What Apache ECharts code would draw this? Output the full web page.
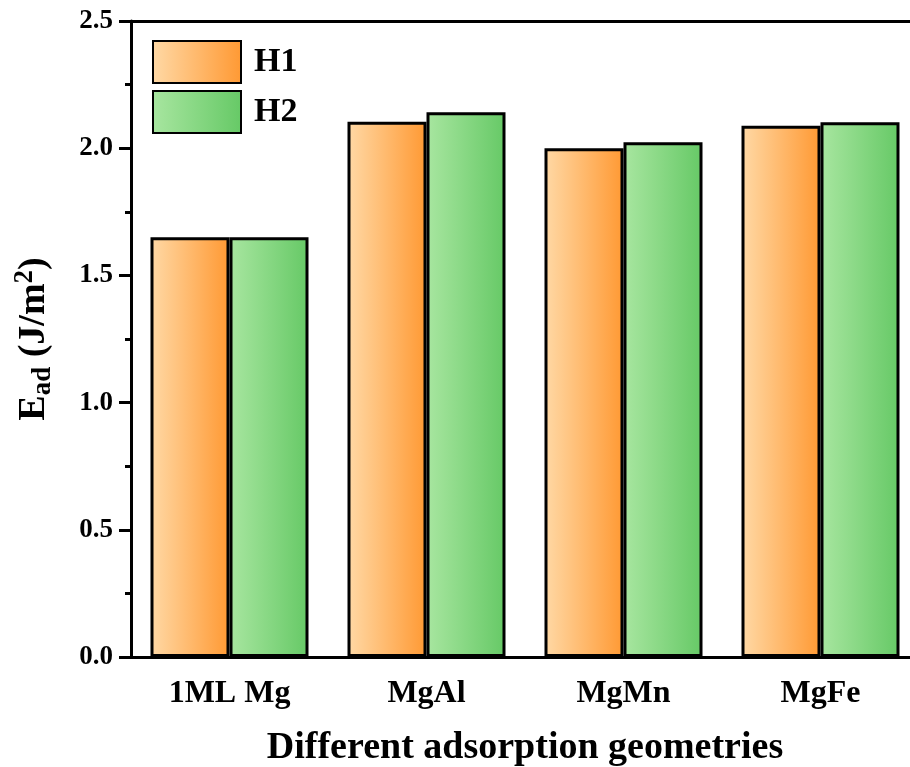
<!DOCTYPE html>
<html><head><meta charset="utf-8">
<script src="https://cdn.jsdelivr.net/npm/echarts@6/dist/echarts.min.js"></script>
<style>html,body{margin:0;padding:0;background:#fff}#c{width:910px;height:767px}</style>
</head><body><div id="c"></div>
<script>
const categories = ['1ML Mg', 'MgAl', 'MgMn', 'MgFe'];
const h1Values = [1.650, 2.104, 2.000, 2.088];
const h2Values = [1.650, 2.141, 2.023, 2.102];
const seriesNames = ['H1', 'H2'];

const FONT = '"Liberation Serif", "Times New Roman", serif';
function grad(a, b) {
  return new echarts.graphic.LinearGradient(0, 0, 1, 0, [{offset: 0, color: a}, {offset: 1, color: b}]);
}
const chart = echarts.init(document.getElementById('c'));
chart.setOption({
  animation: false,
  backgroundColor: '#fff',
  grid: {left: 131, right: -9, top: 21, bottom: 110, containLabel: false, outerBoundsMode: 'none'},
  legend: {
    left: 152, top: 40, padding: 0, orient: 'vertical', itemWidth: 88, itemHeight: 42, itemGap: 6,
    icon: 'rect',
    textStyle: {fontFamily: FONT, fontWeight: 'bold', fontSize: 34, color: '#000', padding: [4, 0, 0, 8]},
    data: seriesNames
  },
  xAxis: [{
    type: 'category', data: categories,
    axisLine: {lineStyle: {color: '#000', width: 3}},
    axisTick: {alignWithLabel: true, length: 10, lineStyle: {width: 3, color: '#000'}},
    axisLabel: {fontFamily: FONT, fontWeight: 'bold', fontSize: 32, color: '#000', margin: 21},
    name: 'Different adsorption geometries', nameLocation: 'middle', nameGap: 72,
    nameTextStyle: {fontFamily: FONT, fontWeight: 'bold', fontSize: 38, color: '#000'}
  }, {
    type: 'category', data: categories, position: 'bottom',
    axisLine: {show: false},
    axisTick: {length: 5, lineStyle: {width: 3, color: '#000'}},
    axisLabel: {show: false}
  }, {
    type: 'category', data: categories, position: 'top',
    axisLine: {lineStyle: {color: '#000', width: 3}},
    axisTick: {show: false}, axisLabel: {show: false}
  }],
  yAxis: {
    type: 'value', min: 0, max: 2.5, interval: 0.5,
    axisLine: {show: true, lineStyle: {color: '#000', width: 3}},
    axisTick: {show: true, length: 12, lineStyle: {width: 3, color: '#000'}},
    minorTick: {show: true, splitNumber: 2, length: 6, lineStyle: {width: 3, color: '#000'}},
    splitLine: {show: false},
    axisLabel: {fontFamily: FONT, fontWeight: 'bold', fontSize: 27, color: '#000', margin: 18,
      formatter: v => v.toFixed(1)},
    name: '{a|E}{b|ad}{a| (J/m}{c|2}{a|)}', nameLocation: 'middle', nameGap: 74,
    nameTextStyle: {
      fontFamily: FONT, fontWeight: 'bold', fontSize: 38, color: '#000',
      rich: {
        a: {fontFamily: FONT, fontWeight: 'bold', fontSize: 38, color: '#000', lineHeight: 46},
        b: {fontFamily: FONT, fontWeight: 'bold', fontSize: 27, color: '#000', lineHeight: 46, padding: [18, 0, 0, 0]},
        c: {fontFamily: FONT, fontWeight: 'bold', fontSize: 27, color: '#000', lineHeight: 46, padding: [0, 0, 18, 0]}
      }
    }
  },
  series: [{
    name: seriesNames[0], type: 'bar', data: h1Values, barWidth: 79, barGap: '0%',
    itemStyle: {color: grad('#FFD9A6', '#FF9933'), borderColor: '#000', borderWidth: 3}
  }, {
    name: seriesNames[1], type: 'bar', data: h2Values, barWidth: 79,
    itemStyle: {color: grad('#A8E6A0', '#66C966'), borderColor: '#000', borderWidth: 3}
  }]
});
</script></body></html>
